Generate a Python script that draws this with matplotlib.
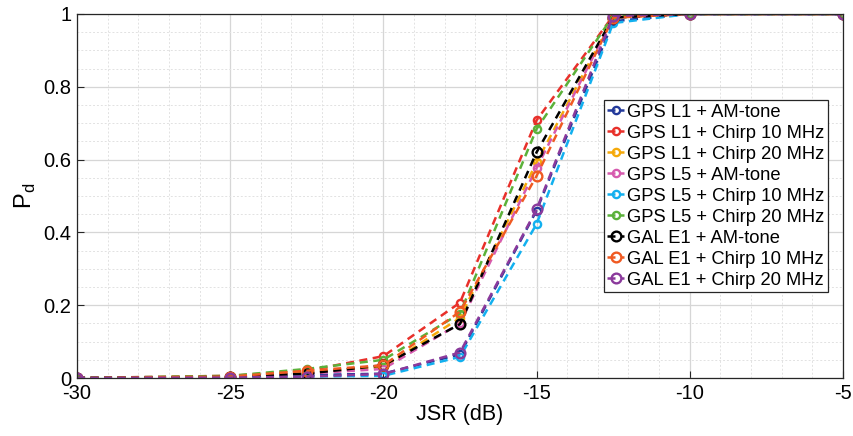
import matplotlib
matplotlib.use("Agg")
import matplotlib.pyplot as plt
from matplotlib.ticker import MultipleLocator

plt.rcParams['font.family'] = ['Liberation Sans', 'DejaVu Sans']
plt.rcParams['axes.unicode_minus'] = False

jsr = [-30, -25, -22.5, -20, -17.5, -15, -12.5, -10, -5]

labels = ["GPS L1 + AM-tone", "GPS L1 + Chirp 10 MHz", "GPS L1 + Chirp 20 MHz",
          "GPS L5 + AM-tone", "GPS L5 + Chirp 10 MHz", "GPS L5 + Chirp 20 MHz",
          "GAL E1 + AM-tone", "GAL E1 + Chirp 10 MHz", "GAL E1 + Chirp 20 MHz"]

gps_l1_am = [0, 0.002, 0.008, 0.012, 0.065, 0.46, 0.98, 1, 1]
gps_l1_c10 = [0, 0.006, 0.02, 0.06, 0.207, 0.708, 0.995, 1, 1]
gps_l1_c20 = [0, 0.004, 0.015, 0.03, 0.165, 0.592, 0.99, 1, 1]
gps_l5_am = [0, 0.003, 0.012, 0.025, 0.15, 0.577, 0.99, 1, 1]
gps_l5_c10 = [0, 0.001, 0.004, 0.006, 0.058, 0.423, 0.975, 1, 1]
gps_l5_c20 = [0, 0.006, 0.025, 0.05, 0.177, 0.684, 0.995, 1, 1]
gal_e1_am = [0, 0.003, 0.012, 0.035, 0.148, 0.62, 0.99, 1, 1]
gal_e1_c10 = [0, 0.004, 0.02, 0.035, 0.182, 0.555, 0.99, 1, 1]
gal_e1_c20 = [0, 0.001, 0.004, 0.011, 0.07, 0.463, 0.995, 1, 1]

series = [gps_l1_am, gps_l1_c10, gps_l1_c20, gps_l5_am, gps_l5_c10, gps_l5_c20,
          gal_e1_am, gal_e1_c10, gal_e1_c20]
colors = ['#23399a', '#e8302a', '#f5a90a', '#d65aae', '#12b0ef', '#5bb13a',
          '#000000', '#f05a22', '#8b3a9c']
msizes = [5.2, 5.2, 5.2, 5.2, 5.2, 5.2, 7, 7, 7]

fig = plt.figure(figsize=(8.54, 4.36), dpi=100)
ax = fig.add_axes([0.0902, 0.133, 0.8968, 0.835])

for y, c, lab, ms in zip(series, colors, labels, msizes):
    ax.plot(jsr, y, linestyle=(0, (3.2, 2.2)), color=c, lw=1.8, marker='o',
            markersize=ms, markerfacecolor='none', markeredgewidth=1.7,
            label=lab)

ax.set_xlim(-30, -5)
ax.set_ylim(0, 1)
ax.set_xticks([-30, -25, -20, -15, -10, -5])
ax.set_yticks([0, 0.2, 0.4, 0.6, 0.8, 1])
ax.set_yticklabels(['0', '0.2', '0.4', '0.6', '0.8', '1'])
ax.xaxis.set_minor_locator(MultipleLocator(1))
ax.yaxis.set_minor_locator(MultipleLocator(0.05))
ax.grid(which='major', color='#d6d6d6', lw=0.9, linestyle='-')
ax.grid(which='minor', color='#e2e2e2', lw=0.7, linestyle=(0, (2, 2)))
ax.set_axisbelow(True)
ax.tick_params(which='major', direction='in', length=5, labelsize=14.5,
               color='#262626', pad=4)
ax.tick_params(which='minor', length=0)
for s in ax.spines.values():
    s.set_color('#262626')
    s.set_linewidth(0.9)

ax.set_xlabel('JSR (dB)', fontsize=15.5, labelpad=1)
ax.set_ylabel(r'P$_\mathregular{d}$', fontsize=17, labelpad=4)

leg = ax.legend(loc='upper right', bbox_to_anchor=(0.980, 0.764), borderaxespad=0,
                fontsize=13.2, labelspacing=0.22, handlelength=0.9, handletextpad=0.15,
                borderpad=0.2, fancybox=False, framealpha=1, edgecolor='#262626')
leg.get_frame().set_linewidth(0.9)

fig.savefig('out.png', dpi=100)
